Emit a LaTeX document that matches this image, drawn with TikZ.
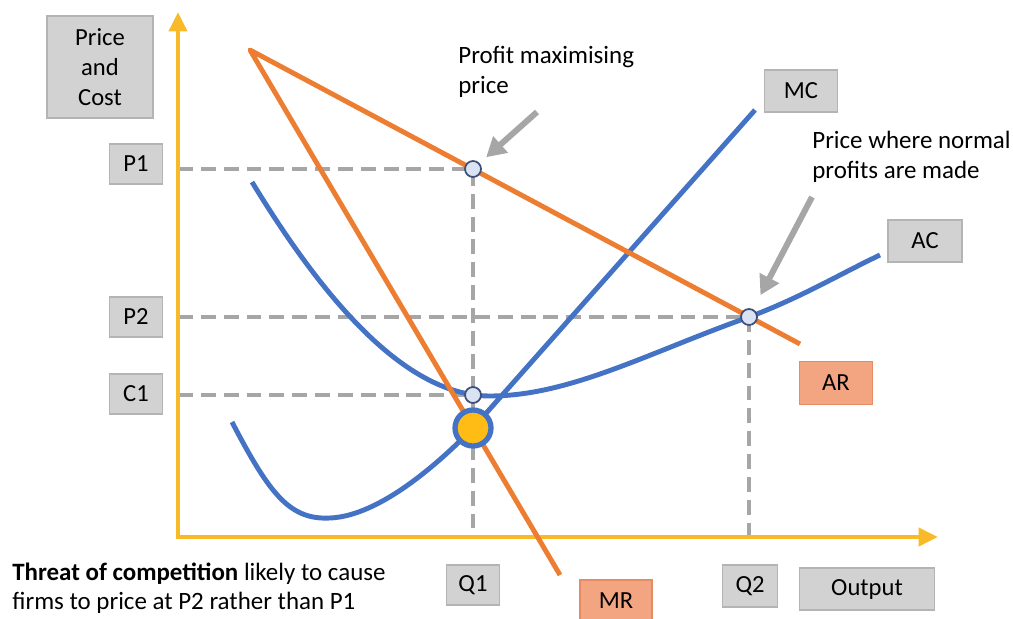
\documentclass[tikz,border=0pt]{standalone}
\usepackage{fontspec}
\setmainfont{Carlito}
\usetikzlibrary{arrows.meta, positioning}

\definecolor{axisyellow}{RGB}{248,186,40}
\definecolor{curveblue}{RGB}{68,114,196}
\definecolor{curveorange}{RGB}{237,125,49}
\definecolor{dashgray}{RGB}{166,166,166}
\definecolor{boxgray}{RGB}{210,210,210}
\definecolor{boxedge}{RGB}{180,180,180}
\definecolor{boxsalmon}{RGB}{243,165,130}
\definecolor{salmonedge}{RGB}{228,140,100}
\definecolor{dotfill}{RGB}{218,227,243}
\definecolor{dotedge}{RGB}{62,80,120}
\definecolor{goldfill}{RGB}{255,188,20}

\begin{document}
\begin{tikzpicture}[x=0.02cm, y=-0.02cm,
  lbl/.style={draw=boxedge, fill=boxgray, line width=0.8pt, font=\fontsize{14}{17}\selectfont,
    minimum width=1.06cm, minimum height=0.8cm, inner sep=2pt},
  rlbl/.style={lbl, draw=salmonedge, fill=boxsalmon},
  note/.style={font=\fontsize{14.2}{17}\selectfont, align=left, inner sep=0pt, anchor=north west},
  curve/.style={line width=2.8pt, line join=round},
  guide/.style={draw=dashgray, line width=2.3pt, dash pattern=on 8.5pt off 4.5pt},
  dot/.style={circle, draw=dotedge, fill=dotfill, line width=1pt, minimum size=0.32cm, inner sep=0pt},
  pointer/.style={draw=dashgray, line width=3.4pt, -{Triangle[length=11pt,width=12pt]}},
  axis/.style={draw=axisyellow, line width=2.8pt, {Triangle[length=11pt,width=10pt]}-{Triangle[length=11pt,width=10pt]}}]
  \useasboundingbox (0,0) rectangle (1013,618);

  \coordinate (O) at (178,537);
  \coordinate (ytip) at (178,12);
  \coordinate (xtip) at (938,537);
  \coordinate (mp) at (473,169);
  \coordinate (np) at (749,317);
  \coordinate (cp) at (473,395);
  \coordinate (qp) at (473,428);

  \draw[guide] (O |- mp) -- (mp) -- (mp |- O);
  \draw[guide] (O |- np) -- (np) -- (np |- O);
  \draw[guide] (O |- cp) -- (cp);

  \draw[axis] (ytip) -- (O) -- (xtip);

  \draw[curve, curveblue] (232,422) .. controls (270,495) and (290,520) .. (330,518)
    .. controls (380,516) and (440,462) .. (qp) -- (755,110);
  \draw[curve, curveblue] (252,182) .. controls (330,310) and (410,396) .. (490,396)
    .. controls (570,396) and (650,352) .. (np) .. controls (800,298) and (840,274) .. (880,255);
  \draw[curve, curveorange] (800,344) -- (250,50) -- (560,575);

  \node[dot] (mpdot) at (mp) {};
  \node[dot] (npdot) at (np) {};
  \node[dot] (cpdot) at (cp) {};
  \node[circle, draw=curveblue, fill=goldfill, line width=3pt, minimum size=0.72cm] (qpdot) at (qp) {};

  \node[lbl, align=center, minimum width=2.12cm, minimum height=2.04cm] (pc) at (100,67) {Price\\and\\Cost};
  \node[lbl] (p1) at (136,164) {P1};
  \node[lbl] (p2) at (136,317) {P2};
  \node[lbl] (c1) [below of=p2, node distance=1.54cm] {C1};
  \node[lbl] (q1) at (473,585) {Q1};
  \node[lbl, minimum width=1.1cm, minimum height=0.84cm] (q2) at (750,586) {Q2};
  \node[lbl, minimum width=2.7cm, minimum height=0.84cm] (out) at (867,589) {Output};
  \node[rlbl, minimum width=1.44cm, minimum height=0.84cm] (mr) at (616,601) {MR};
  \node[rlbl, minimum width=1.46cm, minimum height=0.86cm] (ar) at (836,383) {AR};
  \node[lbl, minimum width=1.46cm, minimum height=0.84cm] (mc) at (801,91) {MC};
  \node[lbl, minimum width=1.48cm, minimum height=0.84cm] (ac) at (925,241) {AC};

  \node[note] (pmtext) at (458,46) {Profit maximising\\price};
  \node[note] (nptext) at (812,131) {Price where normal\\profits are made};
  \node[note, font=\fontsize{14.2}{16}\selectfont] (threat) at (12,563) {\textbf{Threat of competition} likely to cause\\firms to price at P2 rather than P1};

  \coordinate (pmtail) at (537,112);
  \coordinate (nptail) at (812,197);
  \draw[pointer, shorten >=5pt] (pmtail) -- (mpdot);
  \draw[pointer, shorten >=9pt] (nptail) -- (npdot);
\end{tikzpicture}
\end{document}
